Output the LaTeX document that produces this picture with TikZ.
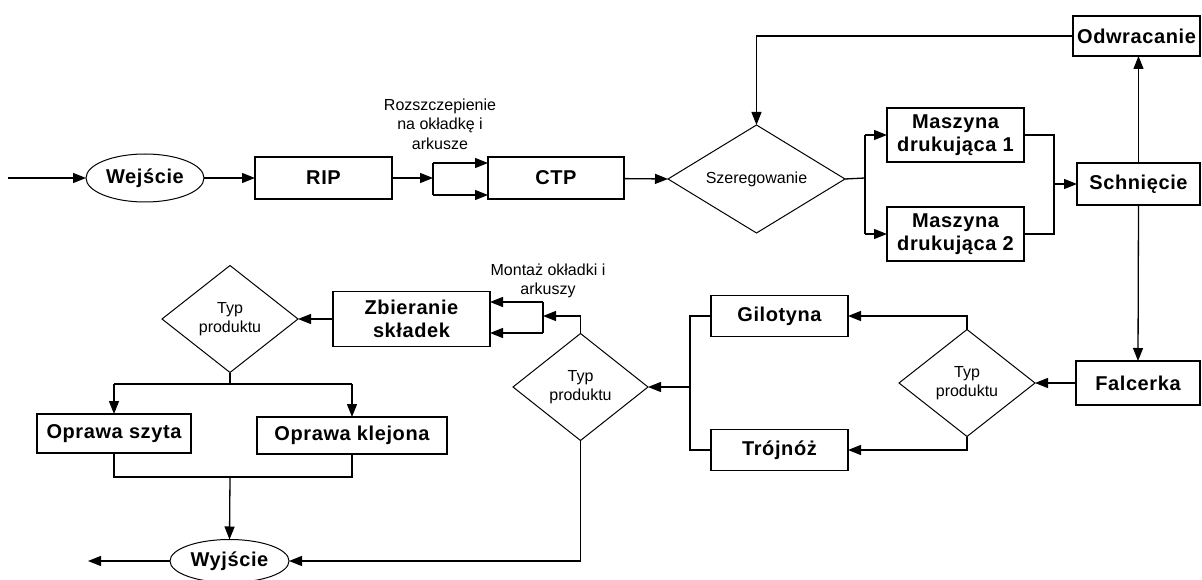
\documentclass[tikz,border=0pt]{standalone}
\usepackage{fontspec}
\setmainfont{Liberation Sans}
\newfontfamily\boxfont[LetterSpace=3]{Liberation Sans}
\usetikzlibrary{shapes.geometric,arrows.meta}
\begin{document}
\begin{tikzpicture}[x=1pt,y=-1pt,
  every node/.style={inner sep=0pt, outer sep=0pt},
  boxlbl/.style={font=\boxfont\bfseries\fontsize{20}{22.5}\selectfont, align=center},
  note/.style={font=\fontsize{16}{19.5}\selectfont, align=center},
  stepbox/.style={draw, line width=1.4pt, rectangle, boxlbl},
  termin/.style={draw, line width=1pt, ellipse, boxlbl},
  decide/.style={draw, line width=1pt, diamond, note},
  flow/.style={line width=1.3pt, -{Triangle[length=13pt,width=10pt]}},
  link/.style={line width=1.3pt}]
\useasboundingbox (0,0) rectangle (1202,580);

% ---- upper row: prepress and printing
\node[termin, minimum width=118pt, minimum height=48pt] (win) at (145,178) {Wejście};
\node[stepbox, minimum width=137pt, minimum height=42pt] (rip) at (323.5,178) {RIP};
\node[stepbox, minimum width=136pt, minimum height=42pt] (ctp) at (556,178) {CTP};
\node[decide, minimum width=177pt, minimum height=108pt, aspect=1.64] (szer) at (756.5,179) {Szeregowanie};
\node[stepbox, minimum width=137pt, minimum height=54pt] (m1) at (955.5,135) {Maszyna\\drukująca 1};
\node[stepbox, minimum width=137pt, minimum height=54pt] (m2) at (955.5,234) {Maszyna\\drukująca 2};
\node[stepbox, minimum width=127pt, minimum height=40pt] (odw) at (1136.5,36) {Odwracanie};
\node[stepbox, minimum width=123pt, minimum height=42pt] (sch) at (1138.5,184) {Schnięcie};
\node[note] (lblsplit) at (440,124) {Rozszczepienie\\na okładkę i\\arkusze};

% ---- lower row: finishing
\node[stepbox, minimum width=124pt, minimum height=44pt] (fal) at (1138,383) {Falcerka};
\node[decide, minimum width=136pt, minimum height=107pt, aspect=1.27] (typ3) at (967,383) {Typ\\produktu};
\node[stepbox, minimum width=137pt, minimum height=41pt] (gil) at (779.5,316) {Gilotyna};
\node[stepbox, minimum width=137pt, minimum height=41pt] (tro) at (779.5,450) {Trójnóż};
\node[decide, minimum width=135pt, minimum height=107pt, aspect=1.27] (typ2) at (580.5,387) {Typ\\produktu};
\node[stepbox, minimum width=157pt, minimum height=55pt] (zb) at (411.5,319) {Zbieranie\\składek};
\node[note] (lblmont) at (548,281) {Montaż okładki i\\arkuszy};
\node[decide, minimum width=136pt, minimum height=107pt, aspect=1.27] (typ1) at (230,319) {Typ\\produktu};
\node[stepbox, minimum width=154pt, minimum height=39pt] (osz) at (114,433.5) {Oprawa szyta};
\node[stepbox, minimum width=190pt, minimum height=37pt] (okl) at (352,435.5) {Oprawa klejona};
\node[termin, minimum width=119pt, minimum height=43pt] (wyj) at (229.5,561) {Wyjście};

% ---- junction points
\coordinate (in0) at (8,178);
\coordinate (out0) at (88,561);
\coordinate (sp) at (433,178);
\coordinate (spa) at (433,163);
\coordinate (spb) at (433,195);
\coordinate (fk) at (865,178);
\coordinate (jn) at (1054,184);
\coordinate (jg) at (690,387);
\coordinate (mt) at (543,316);
\coordinate (mta) at (543,302);
\coordinate (mtb) at (543,333);
\coordinate (br) at (230,384);
\coordinate (mg) at (230,477);

% ---- connectors, upper row
\draw[flow] (in0) -- (win.west);
\draw[flow] (win) -- (rip);
\draw[flow] (rip) -- (sp);
\draw[link] (spa) -- (spb);
\draw[flow] (spa) -- (spa -| ctp.west);
\draw[flow] (spb) -- (spb -| ctp.west);
\draw[flow] (ctp) -- (szer.west);
\draw[flow] (odw.west) -| (szer.north);
\draw[link] (szer.east) -- (fk);
\draw[link] (fk |- m1) -- (fk |- m2);
\draw[flow] (fk |- m1) -- (m1.west);
\draw[flow] (fk |- m2) -- (m2.west);
\draw[link] (m1.east) -| (jn);
\draw[link] (m2.east) -| (jn);
\draw[flow] (jn) -- (sch.west);
\draw[flow] (sch.north) -- (sch.north |- odw.south);
\draw[flow] (sch.south) -- (fal.north);

% ---- connectors, lower row
\draw[flow] (fal.west) -- (typ3.east);
\draw[flow] (typ3.north) |- (gil.east);
\draw[flow] (typ3.south) |- (tro.east);
\draw[link] (gil.west) -| (jg);
\draw[link] (tro.west) -| (jg);
\draw[flow] (jg) -- (typ2.east);
\draw[flow] (typ2.north) |- (mt);
\draw[link] (mta) -- (mtb);
\draw[flow] (mta) -- (mta -| zb.east);
\draw[flow] (mtb) -- (mtb -| zb.east);
\draw[flow] (zb.west) -- (typ1.east);
\draw[link] (typ1.south) -- (br);
\draw[link] (br -| osz) -- (br -| okl);
\draw[flow] (br -| osz) -- (osz.north);
\draw[flow] (br -| okl) -- (okl.north);
\draw[link] (osz.south) |- (mg);
\draw[link] (okl.south) |- (mg);
\draw[flow] (mg) -- (wyj.north);
\draw[flow] (wyj.west) -- (out0);
\draw[flow] (typ2.south) |- (wyj.east);
\end{tikzpicture}
\end{document}
